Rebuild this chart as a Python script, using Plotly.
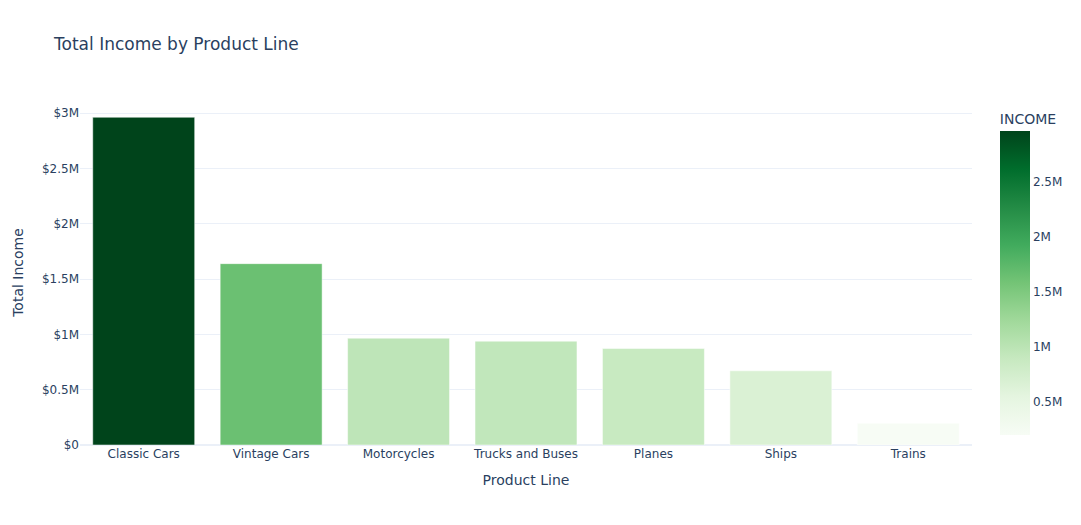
import plotly.express as px
import pandas as pd

product_lines = ["Classic Cars", "Vintage Cars", "Motorcycles", "Trucks and Buses", "Planes", "Ships", "Trains"]
income = [2964000, 1640000, 966000, 939000, 873000, 671000, 196000]

df = pd.DataFrame({"PRODUCTLINE": product_lines, "INCOME": income})

fig = px.bar(df, x="PRODUCTLINE", y="INCOME", color="INCOME",
             color_continuous_scale="Greens",
             title="Total Income by Product Line",
             labels={"PRODUCTLINE": "Product Line"},
             template="plotly_white")
fig.update_layout(xaxis_title="Product Line", yaxis_title="Total Income",
                  yaxis_tickprefix="$", width=1081, height=525,
                  font_family="Verdana, 'DejaVu Sans', sans-serif")
fig.write_html("out.html")
